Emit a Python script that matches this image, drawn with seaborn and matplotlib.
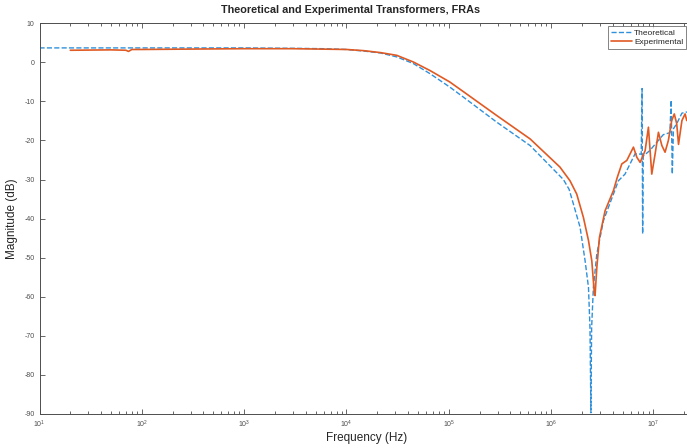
import numpy as np
import pandas as pd
import seaborn as sns
import matplotlib.pyplot as plt
from matplotlib.ticker import LogLocator, NullFormatter

# === Values ===
theo_freq = [10, 100, 1000, 3000, 6000, 10000, 14700, 21500, 31000, 45000,
             65600, 102000, 139000, 294000, 624000, 1320000, 1500000, 1650000,
             1920000, 2150000, 2320000, 2400000, 2450000, 2490000, 2590000,
             2800000, 3250000, 4070000, 4550000, 5280000, 6620000, 7600000,
             7750000, 7850000, 7950000, 9200000, 12500000, 14500000, 14900000,
             15300000, 15700000, 16900000, 19000000, 21300000]
theo_db = [3.7, 3.7, 3.7, 3.6, 3.5, 3.3, 2.9, 2.4, 1.4, -0.3,
           -2.9, -6.3, -8.9, -15.3, -21.3, -30.0, -32.5, -36.2,
           -42.2, -50.8, -57.6, -68.0, -89.7, -68.0, -57.6,
           -49.0, -40.5, -33.7, -30.3, -28.6, -23.4, -23.5,
           -6.7, -43.9, -24.0, -22.6, -18.5, -18.0, -9.7,
           -28.6, -17.0, -15.7, -13.0, -12.7]

exp_freq = [20, 50, 70, 74, 80, 100, 300, 1000, 3000, 10000, 14700, 21500,
            31000, 45000, 65600, 102000, 139000, 294000, 624000, 1220000,
            1530000, 1780000, 2070000, 2320000, 2500000, 2650000, 2690000,
            2800000, 2970000, 3370000, 4070000, 4440000, 4910000, 5500000,
            6380000, 6890000, 7420000, 8300000, 8940000, 9640000, 10400000,
            11200000, 12100000, 13000000, 14000000, 15100000, 16000000,
            16900000, 17600000, 19000000, 20400000, 21200000]
exp_db = [3.1, 3.2, 3.1, 2.8, 3.3, 3.3, 3.4, 3.5, 3.5, 3.3, 3.0, 2.5,
          1.8, 0.1, -2.1, -5.0, -7.5, -13.6, -19.6, -26.8,
          -30.3, -33.7, -39.7, -45.6, -50.8, -59.3, -59.7,
          -52.5, -44.8, -38.0, -32.8, -29.4, -26.0, -25.1,
          -21.7, -24.3, -25.6, -22.6, -16.6, -28.6, -23.4,
          -17.9, -21.3, -23.0, -20.0, -14.9, -13.2,
          -15.7, -21.0, -14.9, -13.2, -14.9]

y_ticks = list(range(10, -100, -10))

theo = pd.DataFrame({"freq": theo_freq, "db": theo_db})
expm = pd.DataFrame({"freq": exp_freq, "db": exp_db})

# === Plot ===
sns.set_style("ticks")
plt.rcParams["font.family"] = ["Liberation Sans", "DejaVu Sans"]
plt.rcParams["axes.unicode_minus"] = False

fig = plt.figure(figsize=(6.87, 4.48), dpi=100)
ax = fig.add_axes([0.0575, 0.076, 0.9425, 0.872])

sns.lineplot(data=theo, x="freq", y="db", ax=ax, color="#3090DA",
             linestyle="--", dashes=(5, 3), linewidth=1.0,
             label="Theoretical", estimator=None, sort=False)
sns.lineplot(data=expm, x="freq", y="db", ax=ax, color="#E05A24",
             linewidth=1.2, label="Experimental", estimator=None, sort=False)

ax.set_xscale("log")
ax.set_xlim(10, 2.13e7)
ax.set_ylim(-90, 10)
ax.set_yticks(y_ticks)
ax.xaxis.set_major_locator(LogLocator(base=10, numticks=12))
ax.xaxis.set_minor_locator(LogLocator(base=10, subs=np.arange(2, 10), numticks=12))
ax.xaxis.set_minor_formatter(NullFormatter())

gray = "#4d4d4d"
ax.tick_params(which="both", direction="in", top=True, right=False,
               colors=gray, labelsize=5, width=0.6)
ax.tick_params(which="major", length=3.5)
ax.tick_params(which="minor", length=2)
for side in ["left", "bottom", "top"]:
    ax.spines[side].set_color(gray)
    ax.spines[side].set_linewidth(0.7)
ax.spines["right"].set_visible(False)

ax.set_xlabel("Frequency (Hz)", fontsize=8.5, color="#262626")
ax.set_ylabel("Magnitude (dB)", fontsize=8.5, color="#262626")
ax.xaxis.set_label_coords((367 - 39.5) / (687 - 39.5), -0.045)
ax.yaxis.set_label_coords((18 - 39.5) / (687 - 39.5), 0.5)
fig.text(351 / 687, 1 - 10 / 448, "Theoretical and Experimental Transformers, FRAs",
         ha="center", va="center", fontsize=7.8, fontweight="bold")

leg = ax.legend(loc="upper left", bbox_to_anchor=(608 / 687, 1 - 26 / 448),
                bbox_transform=fig.transFigure, fontsize=6, frameon=True,
                fancybox=False, borderpad=0.35, handlelength=2.5,
                handletextpad=0.3, labelspacing=0.2, borderaxespad=0)
leg.get_frame().set_edgecolor(gray)
leg.get_frame().set_linewidth(0.6)

fig.savefig("out.png", dpi=100)
